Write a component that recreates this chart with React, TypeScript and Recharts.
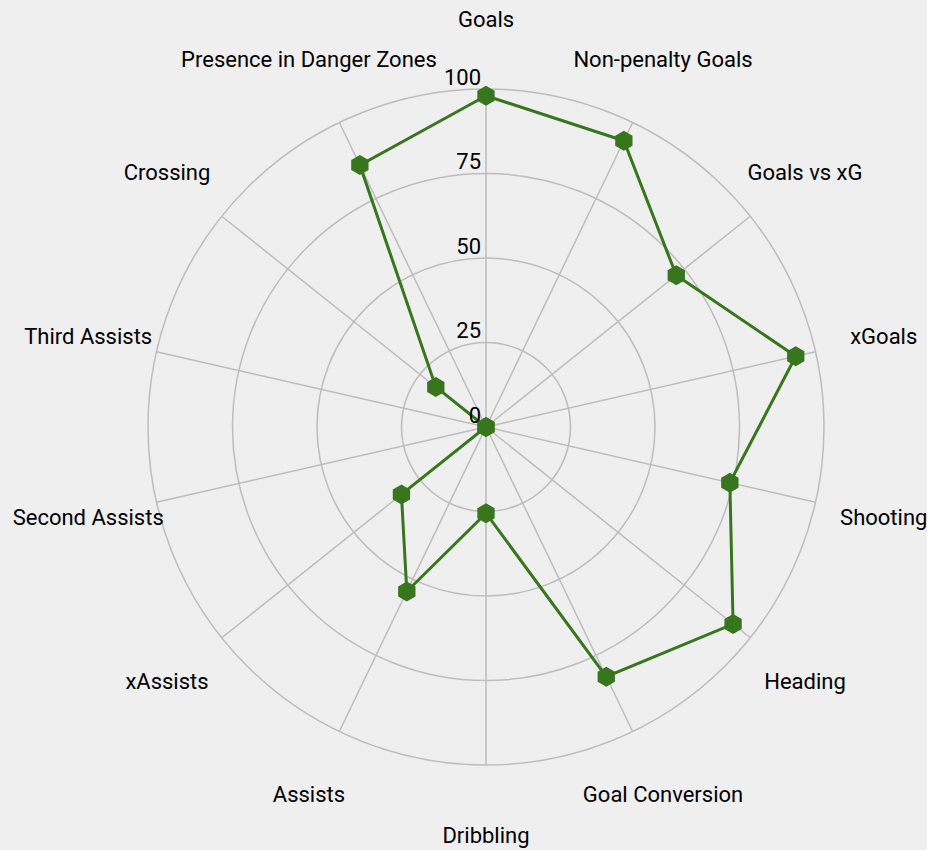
import { RadarChart, Radar, PolarGrid, PolarAngleAxis, PolarRadiusAxis } from 'recharts';

const categories = [
  'Goals', 'Non-penalty Goals', 'Goals vs xG', 'xGoals', 'Shooting', 'Heading',
  'Goal Conversion', 'Dribbling', 'Assists', 'xAssists', 'Second Assists',
  'Third Assists', 'Crossing', 'Presence in Danger Zones',
];
const values = [98, 94, 72, 94, 74, 93.5, 82, 25.5, 54, 32, 0, 0, 19, 86];
const radiusTicks = [0, 25, 50, 75, 100];

const CX = 486;
const CY = 427;
const R = 338;
const LABEL_R = 408;
const GREEN = '#38761d';

const data = categories.map((c, i) => ({ category: c, value: values[i] }));

function AngleTick({ payload }: any) {
  const a = (payload.coordinate * Math.PI) / 180;
  const x = CX + LABEL_R * Math.cos(a);
  const y = CY - LABEL_R * Math.sin(a);
  return (
    <text x={x} y={y} textAnchor="middle" dominantBaseline="central" fontSize={22} fontWeight={400} fill="#000">
      {payload.value}
    </text>
  );
}

function RadiusTick({ x, y, payload }: any) {
  return (
    <text x={x - 5} y={y - 12} textAnchor="end" dominantBaseline="central" fontSize={22} fontWeight={400} fill="#000">
      {payload.value}
    </text>
  );
}

function HexDot({ cx, cy }: any) {
  const r = 10;
  const pts = Array.from({ length: 6 })
    .map((_, k) => {
      const t = ((-90 + k * 60) * Math.PI) / 180;
      return `${cx + r * Math.cos(t)},${cy + r * Math.sin(t)}`;
    })
    .join(' ');
  return <polygon points={pts} fill={GREEN} stroke="none" />;
}

export default function App() {
  return (
    <div style={{ width: 927, height: 850, background: '#efefef', fontFamily: 'Roboto, sans-serif' }}>
      <style>{'body{margin:0;background:#efefef}'}</style>
      <RadarChart width={927} height={850} data={data} cx={CX} cy={CY} outerRadius={R} startAngle={90} endAngle={-270}>
        <PolarGrid gridType="circle" stroke="#bdbdbd" strokeWidth={1.5} />
        <PolarAngleAxis dataKey="category" tick={<AngleTick />} tickLine={false} axisLine={false} />
        <PolarRadiusAxis
          angle={90}
          domain={[0, 100]}
          ticks={radiusTicks}
          tickCount={5}
          tick={<RadiusTick />}
          axisLine={false}
          tickLine={false}
        />
        <Radar
          dataKey="value"
          stroke={GREEN}
          strokeWidth={3}
          fill="none"
          fillOpacity={0}
          dot={<HexDot />}
          isAnimationActive={false}
        />
      </RadarChart>
    </div>
  );
}
